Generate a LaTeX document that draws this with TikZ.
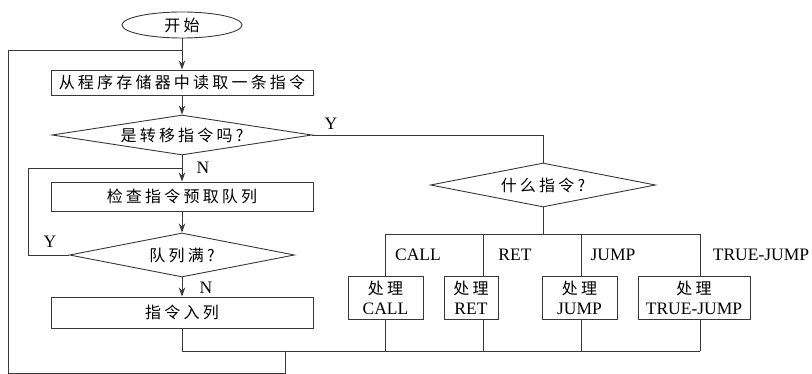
\documentclass[tikz,border=0pt]{standalone}
\usepackage{fontspec}
\setmainfont{Liberation Serif}
\newfontfamily\cjk[LetterSpace=20]{Noto Sans CJK SC}
\usetikzlibrary{shapes.geometric,arrows.meta}
\begin{document}
\begin{tikzpicture}[x=1pt,y=-1pt,
  ln/.style={draw=black!78, line width=0.9pt},
  arr/.style={ln, -{Stealth[length=9pt,width=6.5pt]}},
  cj/.style={font=\cjk\fontsize{16}{18}\selectfont},
  box/.style={ln, rectangle, inner sep=0pt, cj},
  dia/.style={ln, diamond, shape aspect=6, inner sep=0pt, cj},
  pbox/.style={ln, rectangle, inner sep=0pt, minimum height=43, align=center,
               font=\fontsize{17.5}{20}\selectfont},
  lab/.style={inner sep=0pt, font=\fontsize{17.5}{18}\selectfont},
  startsh/.style={ln, ellipse, inner sep=0pt, minimum width=120, minimum height=26, cj}]
\useasboundingbox (0,0) rectangle (812,374);

% nodes
\node[startsh] (start) at (182,25) {开始};
\node[box, minimum width=262, minimum height=25] (b1) at (182,82.5) {从程序存储器中读取一条指令};
\node[dia, minimum width=260, minimum height=40] (d1) at (182,135) {是转移指令吗?};
\node[box, minimum width=262, minimum height=29] (b2) at (182,196.5) {检查指令预取队列};
\node[dia, minimum width=225, minimum height=44] (d3) at (182,255) {队列满?};
\node[box, minimum width=262, minimum height=31] (b3) at (182,312.5) {指令入列};
\node[dia, minimum width=225, minimum height=44] (d2) at (543,185) {什么指令?};

\node[pbox, minimum width=75] (call) at (385.5,297.5) {{\cjk\fontsize{16}{18}\selectfont 处理}\\CALL};
\node[pbox, minimum width=54] (ret) at (471,297.5) {{\cjk\fontsize{16}{18}\selectfont 处理}\\RET};
\node[pbox, minimum width=75] (jump) at (579.5,297.5) {{\cjk\fontsize{16}{18}\selectfont 处理}\\JUMP};
\node[pbox, minimum width=112] (tj) at (694,297.5) {{\cjk\fontsize{16}{18}\selectfont 处理}\\TRUE-JUMP};

% labels
\node[lab] (ly1) at (331,124) {Y};
\node[lab] (ln1) at (203,168) {N};
\node[lab] (ly2) at (50,242) {Y};
\node[lab] (ln2) at (206,288) {N};
\node[lab] (lcall) at (418,255) {CALL};
\node[lab] (lret) at (515,255) {RET};
\node[lab] (ljump) at (613,255) {JUMP};
\node[lab] (ltj) at (761,255) {TRUE-JUMP};

% helper coordinates
\coordinate (j1) at (182,50);
\coordinate (lb) at (8,373);
\coordinate (loopR) at (285,351);
\coordinate (j2) at (182,168);
\coordinate (il) at (28,168);
\coordinate (tA) at (385,234);
\coordinate (tB) at (483,234);
\coordinate (tC) at (581,234);
\coordinate (tD) at (700,234);
\coordinate (bA) at (385,351);
\coordinate (bB) at (483,351);
\coordinate (bC) at (581,351);
\coordinate (bD) at (700,351);

% main flow
\draw[arr] (start.south) -- (b1.north);
\draw[arr] (b1.south) -- (d1.north);
\draw[arr] (d1.south) -- (b2.north);
\draw[arr] (b2.south) -- (d3.north);
\draw[arr] (d3.south) -- (b3.north);

% inner loop (queue full)
\draw[ln] (d3.west) -| (il) -- (j2);

% branch to instruction type
\draw[ln] (d1.east) -| (d2.north);
\draw[ln] (d2.south) -- (d2.south |- tA);
\draw[ln] (tA) -- (tD);
\draw[ln] (tA) -- (tA |- call.north);
\draw[ln] (tB) -- (tB |- ret.north);
\draw[ln] (tC) -- (tC |- jump.north);
\draw[ln] (tD) -- (tD |- tj.north);

% bottom bus
\draw[ln] (b3.south) |- (bD);
\draw[ln] (bA |- call.south) -- (bA);
\draw[ln] (bB |- ret.south) -- (bB);
\draw[ln] (bC |- jump.south) -- (bC);
\draw[ln] (bD |- tj.south) -- (bD);

% outer loop
\draw[ln] (loopR) |- (lb) |- (j1) -- (start.south |- j1);
\end{tikzpicture}
\end{document}
